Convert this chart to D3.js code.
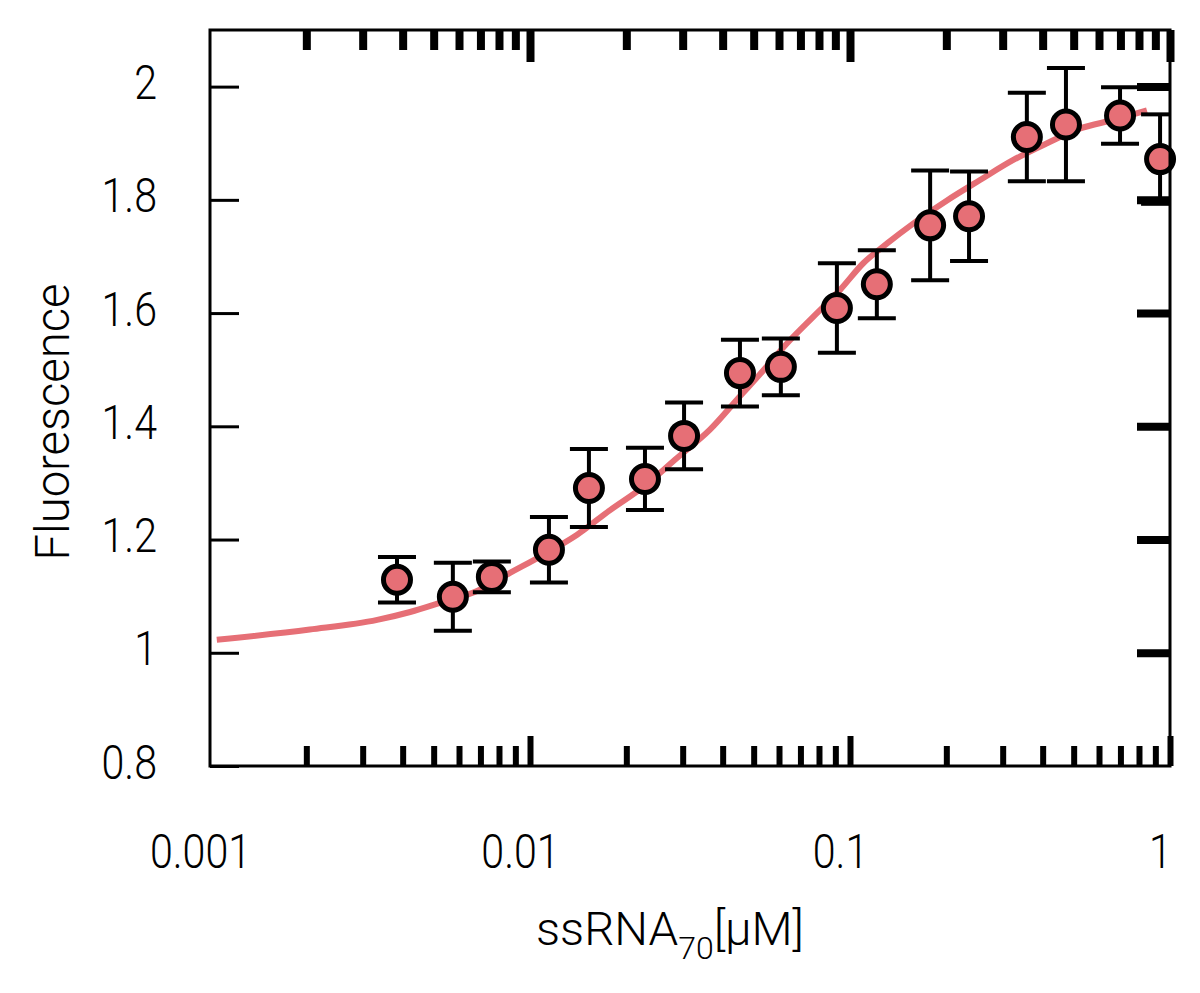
<!DOCTYPE html>
<html>
<head>
<meta charset="utf-8">
<script src="https://cdn.jsdelivr.net/npm/d3@7"></script>
<style>
  body { margin: 0; background: #fff; }
  text { font-family: Roboto, "DejaVu Sans", sans-serif; font-weight: 300; fill: #000; }
</style>
</head>
<body>
<div id="chart-area"></div>
<script>
/*
*    binding curve, ssRNA70 titration
*/

// measured points
var concentration = [0.00384, 0.00574, 0.0076, 0.01146, 0.01528, 0.02287, 0.0303, 0.0453,
                     0.0608, 0.091, 0.1213, 0.178, 0.2355, 0.357, 0.473, 0.698, 0.931];
var fluorescence  = [1.129, 1.099, 1.134, 1.182, 1.291, 1.307, 1.383, 1.494,
                     1.505, 1.609, 1.651, 1.755, 1.771, 1.911, 1.933, 1.949, 1.872];
var errors        = [0.04, 0.06, 0.027, 0.058, 0.069, 0.055, 0.059, 0.059,
                     0.05, 0.079, 0.06, 0.097, 0.079, 0.078, 0.1, 0.05, 0.079];

// fitted curve
var fitX = [0.00105, 0.00205, 0.00333, 0.00422, 0.00535, 0.00683, 0.00866, 0.0110, 0.0140,
            0.0178, 0.0226, 0.0288, 0.0365, 0.0453, 0.0523, 0.0649, 0.0766, 0.0931, 0.110,
            0.1306, 0.1575, 0.201, 0.2548, 0.3228, 0.413, 0.5236, 0.664, 0.847];
var fitY = [1.023, 1.041, 1.058, 1.072, 1.090, 1.109, 1.141, 1.173, 1.208,
            1.252, 1.293, 1.344, 1.394, 1.453, 1.492, 1.552, 1.593, 1.641, 1.688,
            1.723, 1.758, 1.799, 1.835, 1.870, 1.900, 1.926, 1.941, 1.958];

var xMajor = [0.001, 0.01, 0.1, 1];
var xTickLabels = ["0.001", "0.01", "0.1", "1"];
var yTicks = [0.8, 1, 1.2, 1.4, 1.6, 1.8, 2];
var yTickLabels = ["0.8", "1", "1.2", "1.4", "1.6", "1.8", "2"];

var pink = "#e66f76";

var svg = d3.select("#chart-area").append("svg")
            .attr("width", 1200)
            .attr("height", 993);

var mLeft = 210, mRight = 1170, mTop = 30, mBottom = 766;

var x = d3.scaleLog()
          .domain([0.001, 1])
          .range([mLeft, mRight]);

var y = d3.scaleLinear()
          .domain([0.8, 2.1])
          .range([mBottom, mTop]);

var xMinor = x.ticks().filter((d) => { return xMajor.indexOf(d) < 0; });
var xMajorMarks = xMajor.slice(1);   // no mark drawn on the left corner
var yRightMarks = yTicks.slice(1);   // nor on the bottom right corner

function cleanAxis(g, width) {
  g.select(".domain").remove();
  g.selectAll("line").attr("stroke", "#000").attr("stroke-width", width);
}

// narrow the glyphs a bit, the original face is condensed
function squeeze(sel, factor) {
  sel.each(function() {
    var w = this.getComputedTextLength();
    d3.select(this).attr("textLength", w * factor).attr("lengthAdjust", "spacingAndGlyphs");
  });
}

// bottom ticks
svg.append("g").attr("transform", "translate(0," + mBottom + ")")
   .call(d3.axisBottom(x).tickValues(xMinor).tickSize(-20).tickFormat(""))
   .call((g) => cleanAxis(g, 6));
svg.append("g").attr("transform", "translate(0," + mBottom + ")")
   .call(d3.axisBottom(x).tickValues(xMajorMarks).tickSize(-30).tickFormat(""))
   .call((g) => cleanAxis(g, 6));
var bottomLabels = svg.append("g").attr("transform", "translate(0," + mBottom + ")")
   .call(d3.axisBottom(x).tickValues(xMajor).tickSize(0)
           .tickFormat((d, i) => xTickLabels[i]));
bottomLabels.select(".domain").remove();
bottomLabels.selectAll("text")
   .attr("y", 102).attr("dy", null).attr("dx", -10)
   .attr("font-size", 49).attr("font-family", null)
   .call(squeeze, 0.84);

// top ticks
svg.append("g").attr("transform", "translate(0," + mTop + ")")
   .call(d3.axisTop(x).tickValues(xMinor).tickSize(-20).tickFormat(""))
   .call((g) => cleanAxis(g, 8));
svg.append("g").attr("transform", "translate(0," + mTop + ")")
   .call(d3.axisTop(x).tickValues(xMajorMarks).tickSize(-32).tickFormat(""))
   .call((g) => cleanAxis(g, 8));

// left ticks + labels
var leftAxis = svg.append("g").attr("transform", "translate(" + mLeft + ",0)")
   .call(d3.axisLeft(y).tickValues(yTicks).tickSize(-29)
           .tickFormat((d, i) => yTickLabels[i]))
   .call((g) => cleanAxis(g, 3));
leftAxis.selectAll("text")
   .attr("x", -53).attr("dy", 12).attr("font-size", 49).attr("font-family", null)
   .call(squeeze, 0.84);

// right ticks
svg.append("g").attr("transform", "translate(" + mRight + ",0)")
   .call(d3.axisRight(y).tickValues(yRightMarks).tickSize(-33).tickFormat(""))
   .call((g) => cleanAxis(g, 8));

// fitted curve
var line = d3.line()
             .x((d) => x(d[0]))
             .y((d) => y(d[1]))
             .curve(d3.curveMonotoneX);

svg.append("path")
   .datum(d3.zip(fitX, fitY))
   .attr("d", line)
   .attr("fill", "none")
   .attr("stroke", pink)
   .attr("stroke-width", 6);

// error bars
var points = concentration.map((c, i) => {
  return { x: c, y: fluorescence[i], e: errors[i] };
});

var bars = svg.selectAll(".err").data(points).enter().append("g").attr("class", "err")
              .attr("stroke", "#000").attr("stroke-width", 4);
bars.append("line")
    .attr("x1", (d) => x(d.x)).attr("x2", (d) => x(d.x))
    .attr("y1", (d) => y(d.y - d.e)).attr("y2", (d) => y(d.y + d.e));
bars.append("line")
    .attr("x1", (d) => x(d.x) - 19).attr("x2", (d) => Math.min(x(d.x) + 19, mRight))
    .attr("y1", (d) => y(d.y + d.e)).attr("y2", (d) => y(d.y + d.e));
bars.append("line")
    .attr("x1", (d) => x(d.x) - 19).attr("x2", (d) => Math.min(x(d.x) + 19, mRight))
    .attr("y1", (d) => y(d.y - d.e)).attr("y2", (d) => y(d.y - d.e));

// markers
svg.selectAll("circle").data(points).enter().append("circle")
   .attr("cx", (d) => x(d.x))
   .attr("cy", (d) => y(d.y))
   .attr("r", 13.5)
   .attr("fill", pink)
   .attr("stroke", "#000")
   .attr("stroke-width", 5);

// frame
svg.append("rect")
   .attr("x", mLeft).attr("y", mTop)
   .attr("width", mRight - mLeft).attr("height", mBottom - mTop)
   .attr("fill", "none").attr("stroke", "#000").attr("stroke-width", 3);

// axis titles
svg.append("text")
   .attr("transform", "translate(69,422) rotate(-90)")
   .attr("text-anchor", "middle")
   .attr("font-size", 48)
   .attr("textLength", 277).attr("lengthAdjust", "spacingAndGlyphs")
   .text("Fluorescence");

var xt = svg.append("text")
   .attr("x", 670).attr("y", 945)
   .attr("text-anchor", "middle")
   .attr("font-size", 46)
   .attr("textLength", 268).attr("lengthAdjust", "spacingAndGlyphs");
xt.append("tspan").text("ssRNA");
xt.append("tspan").attr("font-size", 31).attr("dy", 14).text("70");
xt.append("tspan").attr("dy", -14).text("[μM]");
</script>
</body>
</html>
